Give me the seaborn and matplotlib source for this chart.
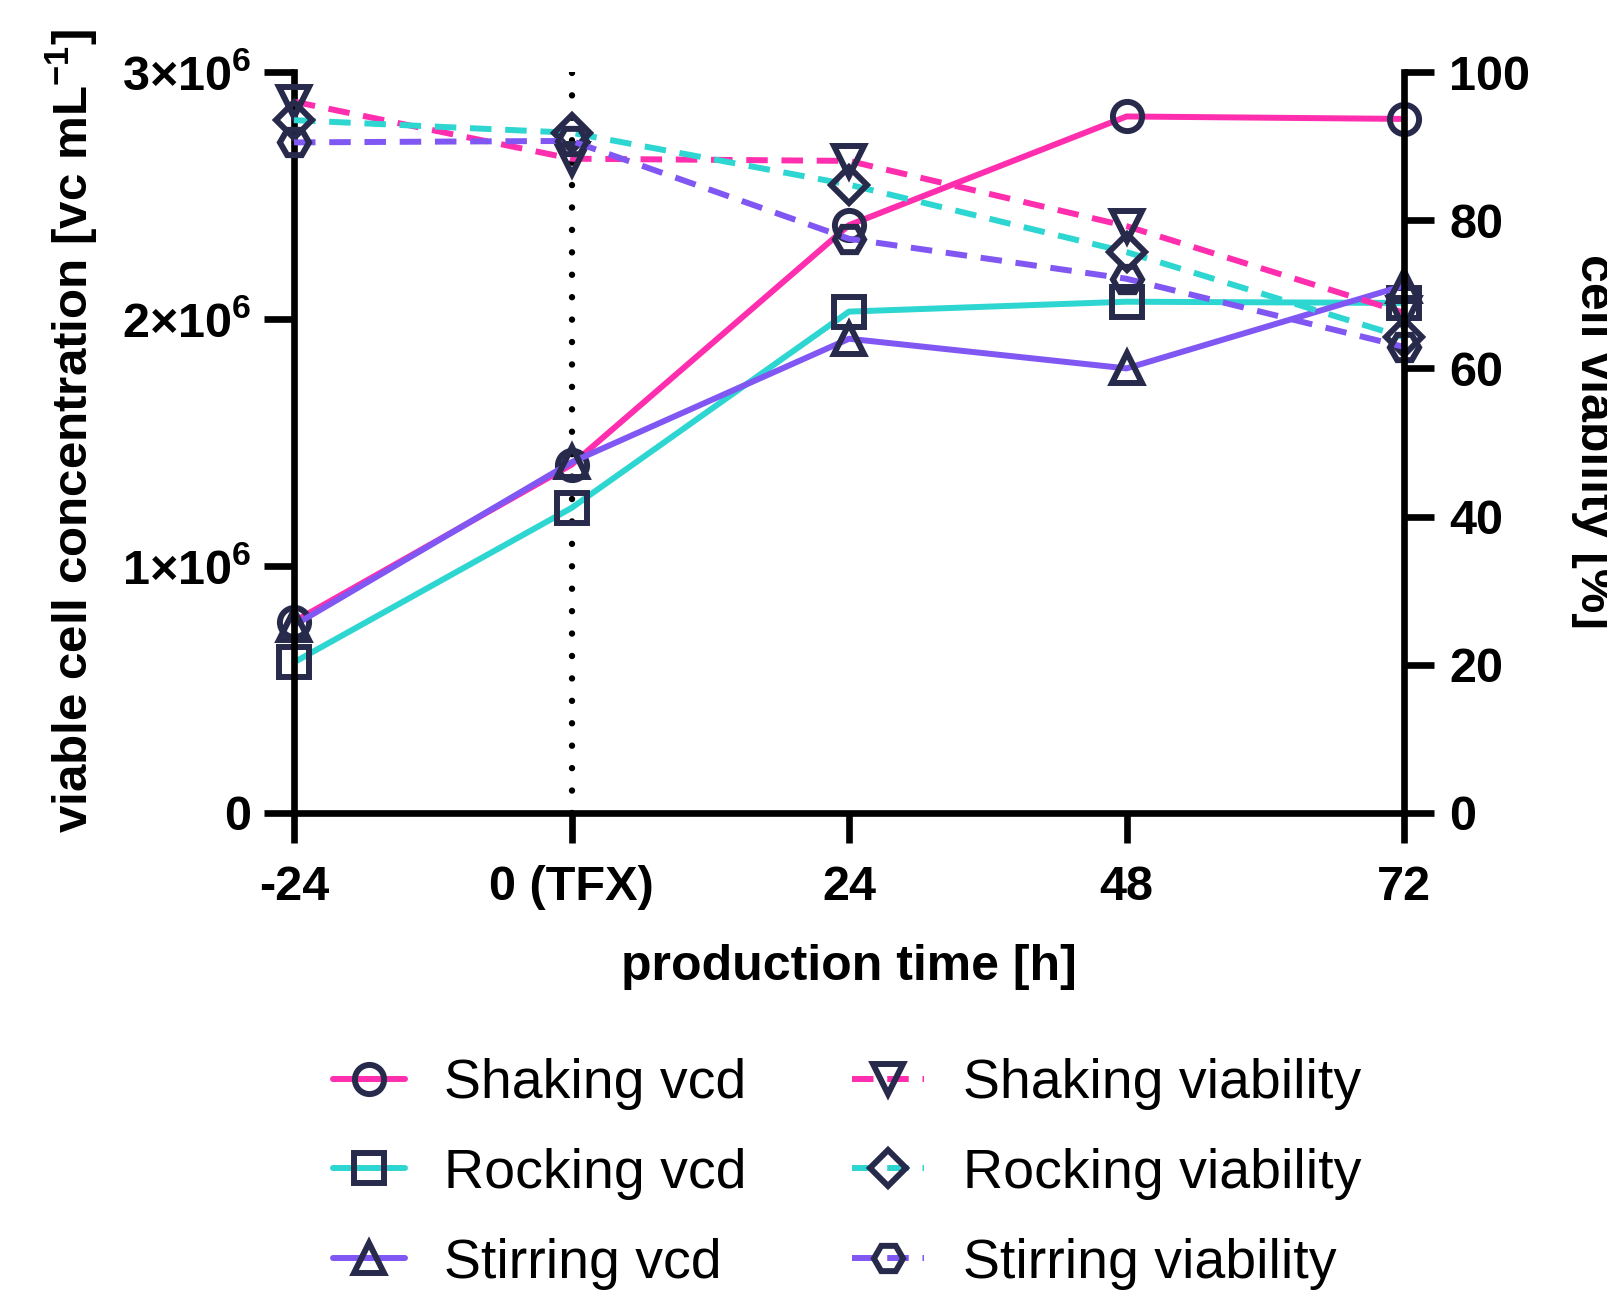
import matplotlib
matplotlib.use("Agg")
import matplotlib.pyplot as plt
import seaborn as sns
import numpy as np

# ---- data ----
time_h = [-24, 0, 24, 48, 72]
time_labels = ["-24", "0 (TFX)", "24", "48", "72"]

shaking_vcd = [0.775e6, 1.41e6, 2.38e6, 2.82e6, 2.81e6]
rocking_vcd = [0.61e6, 1.235e6, 2.03e6, 2.07e6, 2.065e6]
stirring_vcd = [0.76e6, 1.42e6, 1.92e6, 1.80e6, 2.135e6]

shaking_via = [96.0, 88.3, 88.0, 79.2, 67.5]
rocking_via = [93.5, 91.8, 84.8, 75.7, 64.2]
stirring_via = [90.5, 90.7, 77.5, 72.1, 62.9]

vcd_ticks = [0, 1e6, 2e6, 3e6]
vcd_ticklabels = ["0", r"1×10$^{\mathbf{6}}$", r"2×10$^{\mathbf{6}}$", r"3×10$^{\mathbf{6}}$"]
via_ticks = [0, 20, 40, 60, 80, 100]

PINK = "#FF2EAE"
TEAL = "#2ED6D2"
PURPLE = "#8157F4"
NAVY = "#272A4B"

sns.set_theme(style="white")
plt.rcParams["font.family"] = ["Liberation Sans", "DejaVu Sans"]
plt.rcParams["mathtext.fontset"] = "custom"
plt.rcParams["mathtext.rm"] = "Liberation Sans"
plt.rcParams["mathtext.bf"] = "Liberation Sans:bold"
plt.rcParams["mathtext.it"] = "Liberation Sans:italic"
for k in ("text.color", "axes.labelcolor", "xtick.color", "ytick.color", "axes.edgecolor"):
    plt.rcParams[k] = "black"

fig = plt.figure(figsize=(16.08, 12.97), dpi=100)
ax = fig.add_axes([294 / 1608, 1 - 813 / 1297, (1404 - 294) / 1608, (813 - 72) / 1297])
ax2 = ax.twinx()
ax2.set_position(ax.get_position())

LW = 4.3
MS = 21
MEW = 4.3
dash = (0, (3.6, 2.3))

common = dict(markersize=MS, markeredgecolor=NAVY, markerfacecolor="none",
              markeredgewidth=MEW, linewidth=LW, clip_on=False)

# dotted TFX line
ax.axvline(0, color="black", lw=4.6, linestyle=(0, (0.01, 3.5)),
           dash_capstyle="round", zorder=1)

sns.lineplot(x=time_h, y=shaking_vcd, ax=ax, color=PINK, marker="o", label="Shaking vcd", **common)
sns.lineplot(x=time_h, y=rocking_vcd, ax=ax, color=TEAL, marker="s", label="Rocking vcd", **common)
sns.lineplot(x=time_h, y=stirring_vcd, ax=ax, color=PURPLE, marker="^", label="Stirring vcd", **common)

sns.lineplot(x=time_h, y=shaking_via, ax=ax2, color=PINK, marker="v", linestyle=dash,
             label="Shaking viability", **common)
sns.lineplot(x=time_h, y=rocking_via, ax=ax2, color=TEAL, marker="D", linestyle=dash,
             label="Rocking viability", **{**common, "markersize": 18})
sns.lineplot(x=time_h, y=stirring_via, ax=ax2, color=PURPLE, marker="H", linestyle=dash,
             label="Stirring viability", **common)

h1, l1 = ax.get_legend_handles_labels()
h2, l2 = ax2.get_legend_handles_labels()
for a in (ax, ax2):
    if a.get_legend() is not None:
        a.get_legend().remove()

ax.set_xlim(-24, 72)
ax.set_ylim(0, 3e6)
ax2.set_ylim(0, 100)

ax.set_xticks(time_h)
ax.set_xticklabels(time_labels)
ax.set_yticks(vcd_ticks)
ax.set_yticklabels(vcd_ticklabels)
ax2.set_yticks(via_ticks)
ax2.set_yticklabels([str(v) for v in via_ticks])

SPW = 4.8
for a in (ax, ax2):
    for s in a.spines.values():
        s.set_linewidth(SPW)
        s.set_color("black")
    a.spines["top"].set_visible(False)
    a.grid(False)
    a.set_facecolor("none")
ax.spines["right"].set_visible(False)
ax2.spines["left"].set_visible(False)
ax2.spines["bottom"].set_visible(False)

ax.tick_params(axis="x", direction="out", length=21.6, width=SPW, pad=16,
               labelsize=35, bottom=True, colors="black")
ax.tick_params(axis="y", direction="out", length=21.6, width=SPW, pad=9,
               labelsize=35, left=True, colors="black")
ax2.tick_params(axis="y", direction="out", length=21.6, width=SPW, pad=11,
                labelsize=35, right=True, colors="black")
for lab in ax.get_xticklabels() + ax.get_yticklabels() + ax2.get_yticklabels():
    lab.set_fontweight("bold")

ax.set_xlabel("production time [h]", fontsize=36, fontweight="bold", labelpad=24)
ax.set_ylabel("")
ax2.set_ylabel("")

fig.text(72 / 1608, 1 - 431 / 1297, r"viable cell concentration [vc mL$^{\mathbf{-1}}$]",
         rotation=90, ha="center", va="center", fontsize=35.5, fontweight="bold")
fig.text(1594 / 1608, 1 - 442 / 1297, "cell viability [%]",
         rotation=270, ha="center", va="center", fontsize=36, fontweight="bold")

fig.legend(h1 + h2, l1 + l2, ncol=2, loc="upper left",
           bbox_to_anchor=(333 / 1608, 1 - 1058 / 1297), frameon=False,
           borderpad=0, borderaxespad=0, handlelength=1.3, handletextpad=0.7,
           columnspacing=1.9, labelspacing=0.68, fontsize=40)

fig.savefig("out.png", dpi=100, facecolor="white")
